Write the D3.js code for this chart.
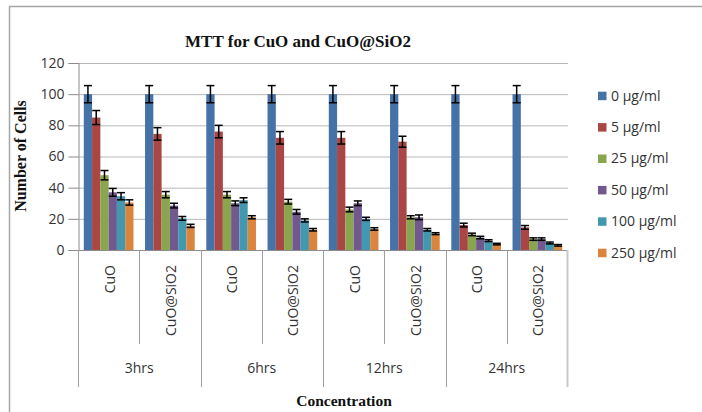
<!DOCTYPE html>
<html>
<head>
<meta charset="utf-8">
<script src="https://cdn.jsdelivr.net/npm/d3@7"></script>
<style>
  body { margin: 0; background: #fff; }
  svg text { fill: #333; }
  .tick-label { font-family: "Open Sans", sans-serif; font-size: 14px; }
  .serif-bold { font-family: "Liberation Serif", "Times New Roman", serif; font-weight: bold; fill: #111; }
</style>
</head>
<body>
<div id="chart"></div>
<script>
// data
const hourGroups = ["3hrs", "6hrs", "12hrs", "24hrs"];
const materials  = ["CuO", "CuO@SiO2"];
const seriesNames = ["0 μg/ml", "5 μg/ml", "25 μg/ml", "50 μg/ml", "100 μg/ml", "250 μg/ml"];
const seriesColors = ["#4572A7", "#AA4643", "#89A54E", "#71588F", "#4198AF", "#DB843D"];

const val0   = [100, 100, 100, 100, 100, 100, 100, 100];
const val5   = [85, 74.5, 76, 72, 72, 69.5, 16, 14.5];
const val25  = [48, 35.5, 35.5, 31, 26, 21, 10, 7];
const val50  = [37, 28.5, 30, 24.5, 30, 21, 8, 7];
const val100 = [34.5, 20.3, 32, 19, 20, 13, 6, 4.5];
const val250 = [30.5, 15.5, 21, 13, 13.5, 10.5, 3.8, 3];

const err0   = [5.5, 5.5, 5.5, 5.5, 5.5, 5.5, 5.5, 5.5];
const err5   = [4.5, 4, 4, 4, 4, 3.5, 1.2, 1.2];
const err25  = [3, 2, 2, 1.5, 1.5, 1, 0.8, 0.8];
const err50  = [2.5, 1.5, 1.5, 1.5, 1.5, 1.5, 0.8, 0.8];
const err100 = [2.3, 1.2, 1.5, 1, 1, 0.8, 0.6, 0.6];
const err250 = [1.7, 1, 1, 0.8, 0.8, 0.6, 0.5, 0.5];

const yTicks = [0, 20, 40, 60, 80, 100, 120];

const allValues = [val0, val5, val25, val50, val100, val250];
const allErrors = [err0, err5, err25, err50, err100, err250];

const categories = [];
hourGroups.forEach(h => materials.forEach(m => categories.push(h + "|" + m)));

const rows = [];
categories.forEach((c, ci) => {
  seriesNames.forEach((s, si) => {
    rows.push({ cat: c, series: s, si: si, value: allValues[si][ci], err: allErrors[si][ci] });
  });
});

const W = 702, H = 412;
const plot = { left: 78, right: 568, top: 63, bottom: 250 };

const svg = d3.select("#chart").append("svg")
  .attr("width", W).attr("height", H);

// outer chart frame (only top/left visible)
svg.append("path")
  .attr("d", `M9.5,${H} L9.5,6.5 L${W},6.5`)
  .attr("fill", "none").attr("stroke", "#a6a6a6").attr("stroke-width", 1.5);

const x0 = d3.scaleBand().domain(categories).range([plot.left, plot.right]).padding(0);
const x1 = d3.scaleBand().domain(seriesNames).range([0, x0.bandwidth()])
  .paddingInner(0).paddingOuter(0.7);
const y = d3.scaleLinear().domain([0, 120]).range([plot.bottom, plot.top]);

// gridlines
svg.append("g").selectAll("line").data(yTicks.filter(d => d > 0)).join("line")
  .attr("x1", plot.left).attr("x2", plot.right)
  .attr("y1", d => y(d) + 0.5).attr("y2", d => y(d) + 0.5)
  .attr("stroke", "#b8b8b8").attr("stroke-width", 1);

// y axis
const yAxis = svg.append("g")
  .attr("transform", `translate(${plot.left + 0.5},0)`)
  .call(d3.axisLeft(y).tickValues(yTicks).tickSize(10).tickPadding(4));
yAxis.select(".domain").attr("stroke", "#8c8c8c");
yAxis.selectAll(".tick line").attr("stroke", "#8c8c8c");
yAxis.selectAll(".tick text").attr("class", "tick-label").attr("fill", "#333");

// bars
const bars = svg.append("g");
bars.selectAll("rect").data(rows).join("rect")
  .attr("x", d => x0(d.cat) + x1(d.series))
  .attr("y", d => y(d.value))
  .attr("width", x1.bandwidth())
  .attr("height", d => y(0) - y(d.value))
  .attr("fill", d => seriesColors[d.si]);

// error bars
const errG = svg.append("g").attr("stroke", "#000").attr("stroke-width", 1.5);
rows.forEach(d => {
  const cx = x0(d.cat) + x1(d.series) + x1.bandwidth() / 2;
  const yt = y(d.value + d.err), yb = y(d.value - d.err);
  errG.append("line").attr("x1", cx).attr("x2", cx).attr("y1", yt).attr("y2", yb);
  errG.append("line").attr("x1", cx - 4).attr("x2", cx + 4).attr("y1", yt).attr("y2", yt);
  errG.append("line").attr("x1", cx - 4).attr("x2", cx + 4).attr("y1", yb).attr("y2", yb);
});

// multi-level category axis
const axisG = svg.append("g").attr("stroke", "#a0a0a0").attr("stroke-width", 1);
axisG.append("line")
  .attr("x1", plot.left).attr("x2", plot.right)
  .attr("y1", plot.bottom + 0.5).attr("y2", plot.bottom + 0.5)
  .attr("stroke", "#8c8c8c");

categories.forEach((c, i) => {
  const xs = Math.round(x0(c)) + 0.5;
  const isGroupStart = i % materials.length === 0;
  axisG.append("line")
    .attr("x1", xs).attr("x2", xs)
    .attr("y1", plot.bottom).attr("y2", isGroupStart ? 387 : 344);
});
axisG.append("line")
  .attr("x1", plot.right - 0.5).attr("x2", plot.right - 0.5)
  .attr("y1", plot.bottom).attr("y2", 387)
  .attr("stroke", "#c8c8c8").attr("stroke-width", 2);

// material labels (rotated)
svg.append("g").selectAll("text").data(categories).join("text")
  .attr("class", "tick-label")
  .attr("text-anchor", "end")
  .attr("transform", d => `translate(${x0(d) + x0.bandwidth() / 2 + 1},265) rotate(-90)`)
  .attr("dy", "0.35em")
  .text(d => d.split("|")[1]);

// hour group labels
svg.append("g").selectAll("text").data(hourGroups).join("text")
  .attr("class", "tick-label")
  .attr("text-anchor", "middle")
  .attr("x", h => x0(h + "|" + materials[0]) + x0.bandwidth())
  .attr("y", 373)
  .text(h => h);

// titles
svg.append("text").attr("class", "serif-bold")
  .attr("x", 298).attr("y", 47).attr("text-anchor", "middle")
  .style("font-size", "17px")
  .text("MTT for CuO and CuO@SiO2");

svg.append("text").attr("class", "serif-bold")
  .attr("transform", "translate(26,156) rotate(-90)")
  .attr("text-anchor", "middle")
  .style("font-size", "16px")
  .text("Number of Cells");

svg.append("text").attr("class", "serif-bold")
  .attr("x", 344).attr("y", 406).attr("text-anchor", "middle")
  .style("font-size", "15.5px")
  .text("Concentration");

// legend
const legend = svg.append("g").selectAll("g").data(seriesNames).join("g")
  .attr("transform", (d, i) => `translate(598,${95.7 + i * 31.4})`);
legend.append("rect")
  .attr("x", 0).attr("y", -4).attr("width", 8.5).attr("height", 8.5)
  .attr("fill", (d, i) => seriesColors[i]);
legend.append("text")
  .attr("class", "tick-label")
  .attr("x", 13).attr("dy", "0.35em")
  .text(d => d);
</script>
</body>
</html>
